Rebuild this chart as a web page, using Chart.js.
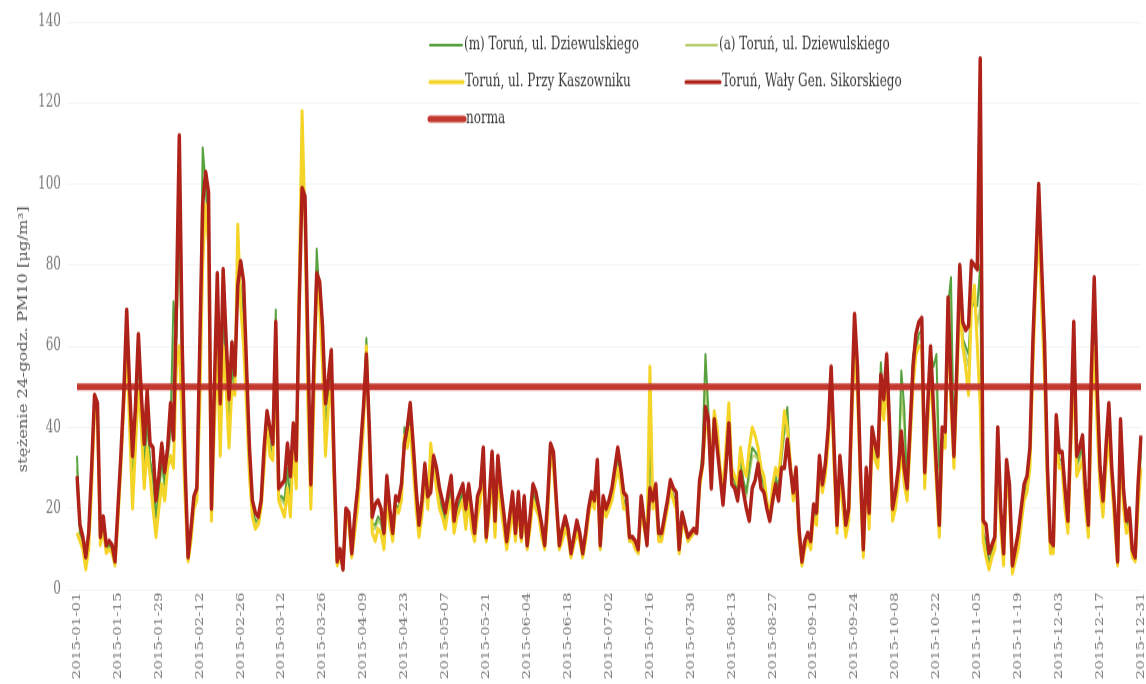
<!DOCTYPE html>
<html><head><meta charset="utf-8">
<script src="https://cdn.jsdelivr.net/npm/chart.js@4.4.1/dist/chart.umd.min.js"></script>
<style>html,body{margin:0;padding:0;background:#fff;}canvas{display:block;}</style>
</head><body>
<canvas id="c" width="1146" height="500" style="width:1146px;height:684px"></canvas>
<script>
// ---- categories (daily, 2015) ----
const categories = [];
for (let i = 0; i < 365; i++) {
  categories.push(new Date(Date.UTC(2015, 0, 1 + i)).toISOString().slice(0, 10));
}
const tickLabels = ['2015-01-01','2015-01-15','2015-01-29','2015-02-12','2015-02-26','2015-03-12','2015-03-26','2015-04-09','2015-04-23','2015-05-07','2015-05-21','2015-06-04','2015-06-18','2015-07-02','2015-07-16','2015-07-30','2015-08-13','2015-08-27','2015-09-10','2015-09-24','2015-10-08','2015-10-22','2015-11-05','2015-11-19','2015-12-03','2015-12-17','2015-12-31'];

const seriesNames = ['(m) Toruń, ul. Dziewulskiego','(a) Toruń, ul. Dziewulskiego','Toruń, ul. Przy Kaszowniku','Toruń, Wały Gen. Sikorskiego','norma'];
const yTitle = 'stężenie 24-godz. PM10 [μg/m³]';
const NORMA = 50;

// (m) Toruń, ul. Dziewulskiego
const dziewulskiegoM = [
33,14,12,6,12,28,46,44,12,16,10,11,10,6,
18,32,47,66,45,25,40,58,45,30,42,32,28,18,
24,32,26,33,40,71,62,95,50,26,7,13,21,23,
55,109,100,90,18,45,70,40,70,55,39,55,50,80,
75,68,50,30,20,17,17,21,32,42,36,34,69,23,
23,22,30,22,38,28,72,110,93,50,22,50,84,72,
60,40,48,55,28,6,9,5,19,17,8,16,22,32,
42,62,38,16,16,18,17,12,25,18,13,21,20,24,
40,38,43,33,22,14,20,30,22,30,31,27,22,20,
17,22,25,15,20,22,24,17,24,17,13,20,23,32,
12,20,31,15,30,22,17,11,16,22,13,22,12,20,
10,16,24,22,19,14,10,20,34,32,21,10,13,16,
14,8,12,15,13,8,13,19,23,21,30,10,21,19,
21,23,28,33,28,22,21,12,12,11,9,21,16,11,
35,21,24,13,13,17,21,26,23,22,9,17,15,12,
13,14,14,26,35,58,44,28,43,38,29,23,32,44,
28,27,24,32,27,24,30,35,34,33,28,26,21,17,
24,28,25,33,40,45,31,23,28,14,6,11,13,11,
20,18,32,25,30,38,53,33,15,30,22,15,19,42,
65,52,28,9,29,17,38,34,32,56,45,55,38,19,
22,28,54,45,24,38,58,60,63,64,27,43,58,55,
58,30,38,37,70,77,32,52,76,62,60,58,72,70,
70,80,14,12,6,10,11,38,18,7,30,24,5,8,
12,18,24,26,33,58,78,95,75,57,28,10,10,40,
32,32,23,16,38,60,31,33,35,23,15,50,70,45,
28,20,33,42,28,18,6,38,23,15,18,9,7,24,
35];

// (a) Toruń, ul. Dziewulskiego
const dziewulskiegoA = [
30,14,12,7,12,27,45,43,12,16,10,11,10,7,
18,31,46,64,44,24,39,56,44,29,41,31,27,17,
23,31,25,32,38,62,60,90,48,25,7,13,21,23,
52,100,98,88,18,44,68,39,68,54,38,54,49,78,
73,66,49,29,19,16,17,21,31,41,35,33,64,23,
22,21,29,21,37,27,70,105,92,48,21,49,80,71,
58,38,47,54,27,6,9,5,18,17,8,15,21,31,
41,58,37,15,15,17,16,11,24,17,13,21,20,23,
38,37,42,32,21,14,19,29,21,28,30,26,21,19,
16,21,24,15,19,21,23,16,23,16,13,19,22,31,
12,19,30,14,29,21,16,11,15,21,13,21,12,19,
10,15,23,21,19,14,10,19,33,31,21,10,13,16,
14,8,12,15,13,8,13,19,22,21,29,10,21,18,
20,22,27,32,27,21,21,12,12,11,9,21,15,11,
30,21,23,13,13,17,20,25,23,21,9,17,15,12,
13,14,14,26,33,50,43,28,42,37,28,22,31,43,
27,26,24,31,26,23,28,33,33,32,27,25,21,17,
23,27,24,32,38,42,30,23,27,14,6,11,13,11,
19,17,31,25,29,37,52,32,15,29,21,14,18,41,
63,50,27,9,28,16,37,33,31,52,44,53,37,18,
21,27,48,40,23,37,55,59,62,62,26,42,56,50,
50,25,37,36,69,72,31,51,74,61,58,55,71,72,
65,70,13,10,6,9,11,37,17,7,29,23,5,8,
11,17,23,25,32,57,77,92,73,55,27,10,10,39,
31,31,22,15,37,58,30,32,34,22,14,48,65,43,
27,19,32,40,27,17,6,37,22,15,17,9,7,22,
33];

// Toruń, ul. Przy Kaszowniku
const kaszowniku = [
14,12,10,5,10,25,44,42,11,15,9,10,9,6,
17,30,45,62,40,20,35,50,40,25,35,28,20,13,
20,26,22,30,33,30,55,60,40,22,7,12,20,22,
45,80,95,85,17,40,60,33,60,50,35,50,48,90,
70,60,45,28,18,15,16,20,30,40,33,32,55,22,
20,18,25,18,35,25,75,118,90,45,20,45,75,70,
55,33,45,50,25,6,8,6,18,16,8,14,20,30,
40,60,35,14,12,15,14,10,22,16,12,20,19,22,
38,35,40,30,20,13,18,28,20,36,30,25,20,18,
15,20,22,14,18,20,22,15,22,15,12,18,22,30,
12,18,28,13,28,20,15,10,14,20,12,20,12,18,
10,15,22,20,18,13,10,18,33,30,20,10,12,15,
13,8,11,14,12,8,12,18,22,20,28,10,20,18,
20,22,26,30,26,20,20,12,12,10,9,20,15,12,
55,20,22,12,12,16,20,25,22,20,9,16,15,12,
13,14,15,25,30,40,40,30,44,40,30,25,35,46,
30,28,26,35,30,28,35,40,38,35,30,28,22,18,
26,30,28,35,44,40,32,22,26,13,6,10,12,10,
18,16,30,24,28,36,50,30,14,28,20,13,17,40,
60,48,26,8,28,15,36,32,30,48,42,52,35,17,
20,26,35,26,22,36,50,58,60,60,25,40,55,40,
26,13,36,35,68,45,30,50,72,60,55,48,70,75,
60,45,12,8,5,8,10,35,15,6,27,22,4,7,
10,16,22,24,30,55,75,90,70,52,25,9,9,38,
30,30,20,14,35,55,28,30,32,20,13,45,60,40,
25,18,30,38,26,16,6,35,20,14,16,8,7,20,
30];

// Toruń, Wały Gen. Sikorskiego
const sikorskiego = [
28,16,13,8,14,30,48,46,13,18,11,12,11,7,
20,33,48,69,50,33,45,63,48,36,49,36,35,22,
28,36,29,35,46,37,70,112,60,30,8,15,23,25,
60,95,103,98,20,50,78,46,79,62,47,61,53,75,
81,76,55,35,22,19,18,22,35,44,40,36,66,25,
26,27,36,28,41,32,70,99,97,60,26,55,78,76,
65,46,52,59,30,7,10,5,20,19,9,18,25,35,
45,58,40,18,21,22,20,14,28,20,14,23,22,26,
36,40,46,36,25,16,22,31,23,24,33,30,25,22,
19,24,28,17,22,24,26,20,26,20,14,23,25,35,
13,22,34,17,33,25,19,12,18,24,14,24,13,23,
11,18,26,24,20,16,11,22,36,34,22,11,15,18,
15,9,13,17,14,9,14,20,24,22,32,11,23,20,
22,25,30,35,30,24,23,13,13,12,10,23,17,11,
25,22,26,14,14,18,22,27,25,24,10,19,16,13,
14,15,14,27,31,45,42,25,42,35,28,21,30,41,
26,25,22,29,24,20,17,25,27,31,25,24,20,17,
22,26,22,30,30,37,30,24,30,15,7,12,14,12,
21,19,33,26,31,40,55,35,16,33,25,16,20,45,
68,55,30,10,30,19,40,36,33,53,47,58,40,20,
24,30,39,30,25,40,55,63,66,67,29,45,60,45,
30,16,40,39,72,50,33,55,80,66,64,65,81,80,
79,131,17,16,9,11,13,40,20,9,32,26,6,10,
14,20,26,28,35,61,80,100,80,61,30,12,11,43,
34,34,25,17,40,66,33,35,38,25,16,53,77,50,
30,22,35,46,30,20,7,42,25,17,20,10,8,26,
38];

const colors = ['#57a23e','#b8cf72','#f5d428','#ae2219','#c4392f'];
const widths = [2, 2, 3, 3.5, 5];
const FONT = 'DejaVu Serif';

const legendPlugin = {
  id: 'gridLegend',
  afterDraw(chart) {
    const ctx = chart.ctx;
    const items = [
      {i: 0, x: 430, y: 33, len: 32, lw: 2},
      {i: 1, x: 686, y: 33, len: 31, lw: 2},
      {i: 2, x: 430, y: 60, len: 33, lw: 3},
      {i: 3, x: 686, y: 60, len: 34, lw: 3},
      {i: 4, x: 430, y: 87, len: 34, lw: 5}
    ];
    ctx.save();
    ctx.font = '12px "' + FONT + '"';
    ctx.textBaseline = 'middle';
    ctx.textAlign = 'left';
    items.forEach(it => {
      ctx.strokeStyle = colors[it.i];
      ctx.lineWidth = it.lw;
      ctx.lineCap = 'round';
      ctx.beginPath();
      ctx.moveTo(it.x, it.y);
      ctx.lineTo(it.x + it.len, it.y);
      ctx.stroke();
      ctx.fillStyle = '#3a3a3a';
      ctx.fillText(chart.data.datasets[it.i].label, it.x + it.len + 2, it.y);
    });
    // y-axis title
    ctx.translate(24, 248);
    ctx.rotate(-Math.PI / 2);
    ctx.textAlign = 'center';
    ctx.fillStyle = '#555';
    ctx.fillText(yTitle, 0, 0);
    ctx.restore();
  }
};

const seriesData = [dziewulskiegoM, dziewulskiegoA, kaszowniku, sikorskiego];
const drawOrder = [3, 4, 2, 0, 1];
const datasets = seriesData.map((d, i) => ({
  label: seriesNames[i], data: d, borderColor: colors[i], backgroundColor: colors[i],
  borderWidth: widths[i], pointRadius: 0, tension: 0, fill: false, order: drawOrder[i],
  borderJoinStyle: 'round'
}));
datasets.push({
  label: seriesNames[4],
  data: [{x: categories[0], y: NORMA}, {x: categories[categories.length - 1], y: NORMA}],
  borderColor: colors[4], backgroundColor: colors[4], borderWidth: widths[4],
  pointRadius: 0, fill: false, order: drawOrder[4]
});

Chart.defaults.font.family = FONT;

new Chart(document.getElementById('c'), {
  type: 'line',
  data: {labels: categories, datasets: datasets},
  options: {
    responsive: false,
    devicePixelRatio: 1,
    animation: false,
    events: [],
    layout: {padding: {left: 0, right: 5, top: 16, bottom: 0}},
    plugins: {legend: {display: false}, tooltip: {enabled: false}, title: {display: false}},
    scales: {
      x: {
        type: 'category',
        grid: {display: false, drawTicks: false},
        border: {display: false},
        ticks: {
          autoSkip: false, minRotation: 90, maxRotation: 90, padding: 2,
          color: '#777', font: {family: FONT, size: 11},
          callback: function (value) {
            const lab = this.getLabelForValue(value);
            return tickLabels.includes(lab) ? lab : '';
          }
        },
        afterFit(s) { s.height = 69; s.paddingLeft = 0; s.paddingRight = 0; }
      },
      y: {
        min: 0, max: 140,
        ticks: {stepSize: 20, color: '#777', padding: 6, font: {family: FONT, size: 12}},
        grid: {color: 'rgba(0,0,0,0.045)', tickLength: 10, drawTicks: true},
        border: {display: false},
        afterFit(s) { s.width = 77; }
      }
    }
  },
  plugins: [legendPlugin]
});
</script>
</body></html>
